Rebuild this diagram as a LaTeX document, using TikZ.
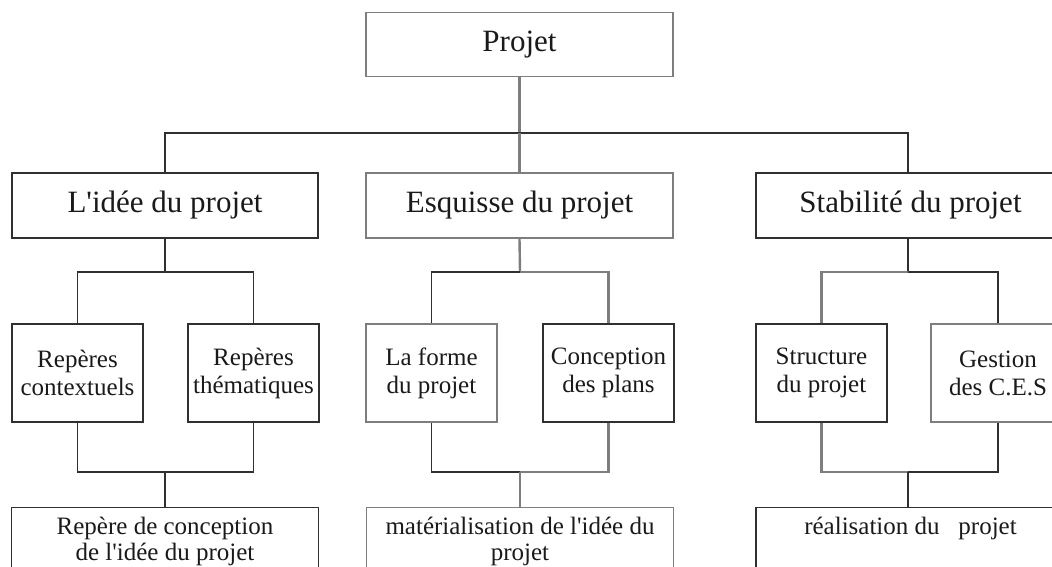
\documentclass[tikz,border=0pt]{standalone}
\usepackage{fontspec}
\setmainfont{Liberation Serif}[Ligatures=TeXOff]
\definecolor{linedark}{HTML}{303030}
\definecolor{linegray}{HTML}{7E7E7E}
\definecolor{txt}{HTML}{1A1A1A}
\begin{document}
\begin{tikzpicture}[x=1pt,y=-1pt,
  box/.style={draw=linedark,line width=1.3pt,inner sep=0pt,text=txt},
  bigbox/.style={box,minimum width=306pt,minimum height=65pt,font=\fontsize{31}{34}\selectfont},
  smallbox/.style={box,minimum width=131pt,minimum height=98pt,align=center,font=\fontsize{25}{28}\selectfont},
  botbox/.style={box,minimum width=307pt,minimum height=110pt,anchor=north},
  bottext/.style={anchor=north,inner sep=0pt,align=center,text=txt,font=\fontsize{25}{26}\selectfont},
  gray box/.style={draw=linegray},
  link/.style={draw=linedark,line width=1.3pt},
  gray link/.style={draw=linegray,line width=2.4pt}]
\useasboundingbox (0,0) rectangle (1052,567);
\clip (0,0) rectangle (1052,567);
\fill[white] (0,0) rectangle (1052,567);

% top
\node[bigbox,gray box,minimum width=307pt,minimum height=64pt] (projet) at (519.5,44.7) {Projet};

% level 1
\node[bigbox] (idee) at (165,205.5) {L'idée du projet};
\node[bigbox,gray box,minimum width=307pt] (esq) at (519.5,205.5) {Esquisse du projet};
\node[bigbox,minimum width=309pt] (stab) at (910.5,205.5) {Stabilité du projet};

% level 2
\node[smallbox] (rc) at (77.5,373) {Repères\\contextuels};
\node[smallbox] (rt) at (253.5,373) {Repères\\thématiques};
\node[smallbox,gray box] (lf) at (431.5,373) {La forme\\du projet};
\node[smallbox] (cp) at (608.5,373) {Conception\\des plans};
\node[smallbox] (sp) at (821.5,373) {Structure\\du projet};
\node[smallbox,gray box,minimum width=134pt] (gc) at (998,373) {Gestion\\des C.E.S};

% bottom
\node[botbox] (b1) at (165,507) {};
\node[bottext] (b1t) at ([yshift=-10pt]b1.north) {Repère de conception\\de l'idée du projet};
\node[botbox,gray box] (b2) at (520,507) {};
\node[bottext] (b2t) at ([yshift=-10pt]b2.north) {matérialisation de l'idée du\\projet};
\node[botbox,minimum width=309pt] (b3) at (910.5,507) {};
\node[bottext] (b3t) at ([yshift=-10pt]b3.north) {réalisation du \ \ projet};

% connectors top
\coordinate (bar0) at (519.5,133);
\path[gray link] (projet.south) -- (bar0);
\path[link] (idee.north) |- (bar0);
\path[link] (stab.north -| 908,0) |- (bar0);
\path[gray link] (esq.north) -- (bar0);

% idee branch
\coordinate (i1) at (165,272);
\coordinate (i2) at (165,472);
\path[link] (idee.south) -- (i1);
\path[link] (rc.north) |- (i1);
\path[link] (rt.north) |- (i1);
\path[link] (rc.south) |- (i2);
\path[link] (rt.south) |- (i2);
\path[link] (i2) -- (b1.north);

% esquisse branch
\coordinate (e1) at (520,272);
\coordinate (e2) at (520,472);
\path[gray link] (esq.south) -- (e1);
\path[link] (lf.north) |- (e1);
\path[gray link] (cp.north) |- (e1);
\path[link] (lf.south) |- (e2);
\path[gray link] (cp.south) |- (e2);
\path[gray link] (e2) -- (b2.north);

% stabilite branch
\coordinate (s1) at (908,272);
\coordinate (s2) at (908,472);
\path[link] (stab.south -| s1) -- (s1);
\path[gray link] (sp.north) |- (s1);
\path[link] (gc.north) |- (s1);
\path[gray link] (sp.south) |- (s2);
\path[link] (gc.south) |- (s2);
\path[link] (s2) -- (b3.north -| s2);
\end{tikzpicture}
\end{document}
